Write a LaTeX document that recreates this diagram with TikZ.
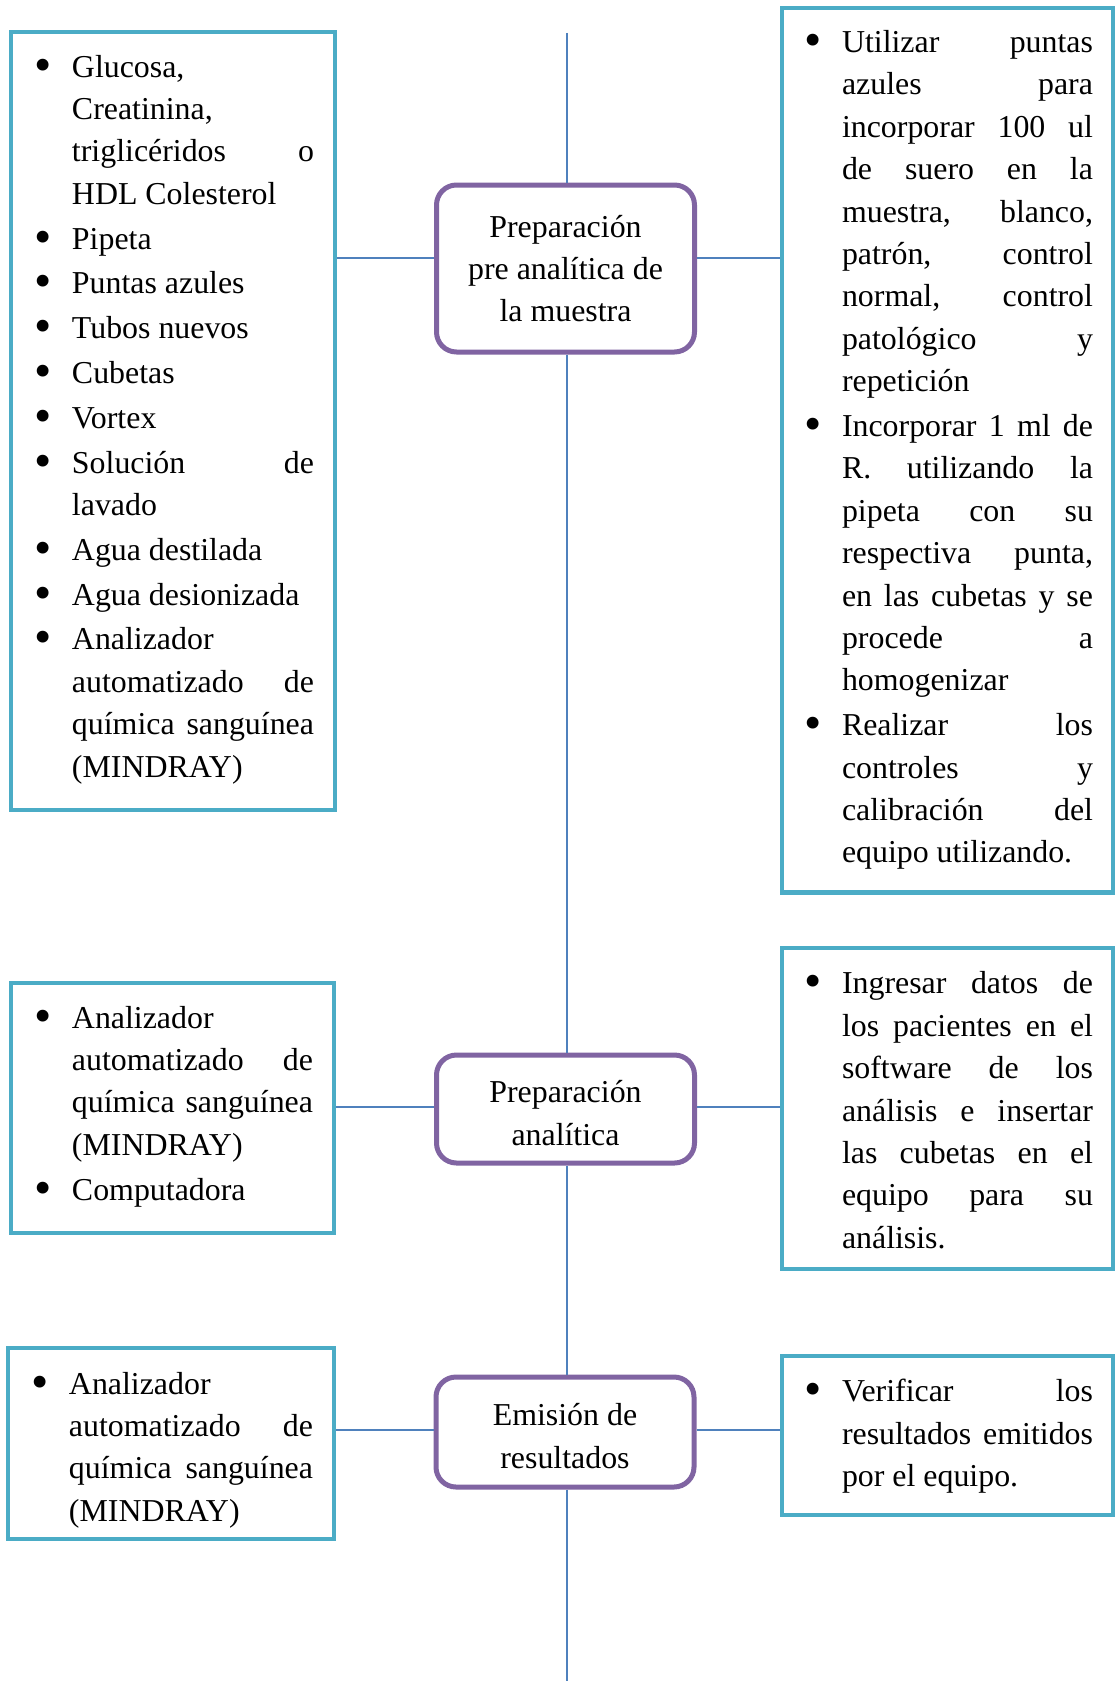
\documentclass[tikz,border=0pt]{standalone}
\usepackage{fontspec}
\setmainfont{Liberation Serif}
\definecolor{boxteal}{HTML}{4BACC6}
\definecolor{boxpurple}{HTML}{8064A2}
\definecolor{linkblue}{HTML}{4F81BD}
\newcommand\bodyfont{\fontsize{32pt}{42.4bp}\selectfont}
\newcommand\listfont{\bodyfont\setlength\parskip{2.4bp}\hyphenpenalty=10000 }
% one bullet item with hanging indent
\newcommand\itm{\par\noindent\hangindent=40bp\hangafter=1
  \makebox[40bp][l]{\hspace{2.5bp}\raisebox{-4bp}{\scalebox{1.55}{\textbullet}}}\ignorespaces}
% closes a list and lifts it inside its frame
\newcommand\lift[1]{\par\vskip#1bp\nointerlineskip\hbox{}}

\begin{document}
\begin{tikzpicture}[x=1bp,y=-1bp,
  every node/.style={font=\bodyfont},
  lst/.style={draw=boxteal,line width=4.5bp,inner xsep=21bp,inner ysep=0pt,align=justify,font=\listfont},
  rlst/.style={lst,inner xsep=20bp,text width=291bp},
  stage/.style={draw=boxpurple,line width=5bp,rounded corners=20bp,align=center,inner sep=0pt,minimum width=258bp},
  link/.style={draw=linkblue,line width=2bp}]
\useasboundingbox(0,0)rectangle(1116,1681);
\coordinate(top)at(567,33);
\coordinate(bot)at(567,1681);
\coordinate(r1)at(567,258);
\coordinate(r2)at(567,1107);
\coordinate(r3)at(567,1430);
% stages on the spine
\node[stage,minimum height=167bp](C1)at(565.5,268.5){Preparación\\pre analítica de\\la muestra};
\node[stage,minimum height=108bp](C2)at(565.5,1109){\rule{0pt}{30.5bp}Preparación\\analítica};
\node[stage,minimum height=110bp](C3)at(565,1432){\rule{0pt}{30.5bp}Emisión de\\resultados};
% materials (left)
\node[lst,text width=282bp,minimum height=778bp](L1)at(173,421){%
\itm Glucosa,\linebreak Creatinina,\linebreak triglicéridos o\linebreak HDL Colesterol
\itm Pipeta
\itm Puntas azules
\itm Tubos nuevos
\itm Cubetas
\itm Vortex
\itm Solución de\linebreak lavado
\itm Agua destilada
\itm Agua desionizada
\itm Analizador\linebreak automatizado de\linebreak química sanguínea\linebreak (MINDRAY)
\lift{25.7}};
\node[lst,text width=281bp,minimum height=250bp](L2)at(172.5,1108){%
\itm Analizador\linebreak automatizado de\linebreak química sanguínea\linebreak (MINDRAY)
\itm Computadora
\lift{25.7}};
\node[lst,text width=284bp,minimum height=191bp](L3)at(171,1443.5){%
\itm Analizador\linebreak automatizado de\linebreak química sanguínea\linebreak (MINDRAY)
\lift{9.6}};
% procedure (right)
\node[rlst,minimum height=884bp](R1)at(947.5,450){%
\itm Utilizar puntas\linebreak azules para\linebreak incorporar 100 ul\linebreak de suero en la\linebreak muestra, blanco,\linebreak patrón, control\linebreak normal, control\linebreak patológico y\linebreak repetición
\itm Incorporar 1 ml de\linebreak R. utilizando la\linebreak pipeta con su\linebreak respectiva punta,\linebreak en las cubetas y se\linebreak procede a\linebreak homogenizar
\itm Realizar los\linebreak controles y\linebreak calibración del\linebreak equipo utilizando.
\lift{22.5}};
\node[rlst,minimum height=321bp](R2)at(947.5,1108.5){%
\itm Ingresar datos de\linebreak los pacientes en el\linebreak software de los\linebreak análisis e insertar\linebreak las cubetas en el\linebreak equipo para su\linebreak análisis.
\lift{19.3}};
\node[rlst,minimum height=159bp](R3)at(947.5,1435.5){%
\itm Verificar los\linebreak resultados emitidos\linebreak por el equipo.
\lift{20.4}};
% spine and branches
\begin{scope}[link]
\draw(top)--(top|-C1.north);
\draw(top|-C1.south)--(top|-C2.north);
\draw(top|-C2.south)--(top|-C3.north);
\draw(top|-C3.south)--(bot);
\draw(L1.east|-r1)--(C1.west|-r1);
\draw(C1.east|-r1)--(R1.west|-r1);
\draw(L2.east|-r2)--(C2.west|-r2);
\draw(C2.east|-r2)--(R2.west|-r2);
\draw(L3.east|-r3)--(C3.west|-r3);
\draw(C3.east|-r3)--(R3.west|-r3);
\end{scope}
\end{tikzpicture}
\end{document}
